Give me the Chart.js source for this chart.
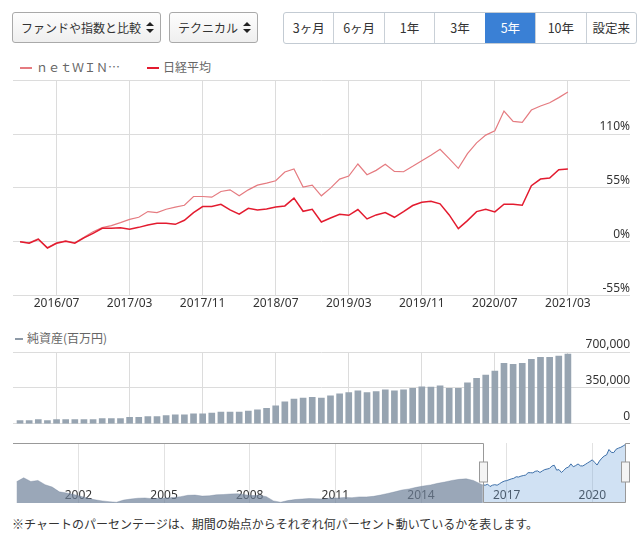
<!DOCTYPE html>
<html lang="ja">
<head>
<meta charset="utf-8">
<script src="https://cdn.jsdelivr.net/npm/chart.js@4.4.1/dist/chart.umd.min.js"></script>
<style>
  body { margin: 0; background: #fff; font-family: "Noto Sans CJK JP", "Noto Sans", sans-serif; color: #333; }
  #wrap { position: relative; width: 643px; height: 534px; overflow: hidden; }
  .sel { position: absolute; top: 12px; height: 31px; box-sizing: border-box; border: 1px solid #a9a9a9; border-radius: 3px;
         background: linear-gradient(#fdfdfd, #efefef); font-size: 12px; line-height: 29px; padding-left: 8px; }
  .arr { position: absolute; right: 6px; top: 9px; width: 8px; height: 11px; }
  .arr:before, .arr:after { content: ''; position: absolute; left: 0; border-left: 4px solid transparent; border-right: 4px solid transparent; }
  .arr:before { top: 0; border-bottom: 4.5px solid #222; }
  .arr:after { bottom: 0; border-top: 4.5px solid #222; }
  #btns { position: absolute; left: 283px; top: 12px; width: 354px; height: 32px; display: flex; box-sizing: border-box;
          border: 1px solid #c3cbd3; border-radius: 3px; overflow: hidden; }
  #btns div { flex: 1; text-align: center; line-height: 30px; font-size: 12.5px; border-left: 1px solid #c9d0d7; }
  #btns div:first-child { border-left: none; }
  #btns div.on { background: #3a80d5; color: #fff; border-left-color: #3a80d5; }
  .lg { position: absolute; font-size: 12px; color: #666; line-height: 14px; white-space: nowrap; }
  .lg i { display: inline-block; height: 2px; vertical-align: middle; margin-right: 4px; position: relative; top: -1px; }
  canvas { position: absolute; }
  #note { position: absolute; left: 12px; top: 515px; font-size: 12px; line-height: 18px; }
</style>
</head>
<body>
<div id="wrap">
  <div class="sel" style="left:12px;width:149px">ファンドや指数と比較<span class="arr"></span></div>
  <div class="sel" style="left:169px;width:89px">テクニカル<span class="arr"></span></div>
  <div id="btns">
    <div>3ヶ月</div><div>6ヶ月</div><div>1年</div><div>3年</div><div class="on">5年</div><div>10年</div><div>設定来</div>
  </div>

  <div class="lg" style="left:20px;top:60px"><i style="width:12px;background:#e57b80"></i>ｎｅｔＷＩＮ…</div>
  <div class="lg" style="left:147px;top:60px"><i style="width:12px;background:#e31b2f"></i>日経平均</div>
  <canvas id="perf" width="617" height="239" style="left:13px;top:73px"></canvas>

  <div class="lg" style="left:15px;top:331px"><i style="width:8px;background:#8e9aa7"></i>純資産(百万円)</div>
  <canvas id="assets" width="617" height="97" style="left:13px;top:334px"></canvas>

  <canvas id="nav" width="617" height="60" style="left:13px;top:443px"></canvas>

  <div id="note">※チャートのパーセンテージは、期間の始点からそれぞれ何パーセント動いているかを表します。</div>
</div>

<script>
// monthly points 2016/03 .. 2021/03
const months = [];
for (let k = 0; k < 61; k++) {
  const m = 2 + k;
  months.push(`${2016 + Math.floor(m / 12)}/${String(m % 12 + 1).padStart(2, '0')}`);
}
const tickLabels = ['2016/07', '2017/03', '2017/11', '2018/07', '2019/03', '2019/11', '2020/07', '2021/03'];
const pctTicks = [-55, 0, 55, 110, 165];
const assetTicks = [0, 350000, 700000];

// % change from start of period
const netWin = [0, -1, 3, -6, -1, 1, -1, 4.5, 10.3, 14.4, 16.4, 19.5, 22.9, 25, 30.8, 29.8, 33.2, 35.3, 37.3, 46.2,
  46.2, 45.5, 51.3, 53, 46.9, 53, 57.8, 59.9, 62.3, 71.2, 74.3, 55.8, 57.8, 46.9, 54.8, 64, 67.1, 79.4, 68.5, 72.9,
  79.1, 71.9, 71.5, 77, 82.8, 88.3, 94.5, 84.9, 75, 90, 101, 108.9, 113.3, 133.5, 122.9, 121.9, 134.5, 138.6, 142, 147.2, 153];
const nikkei = [0, -1.5, 2.5, -6.5, -1.5, 0.5, -1.5, 4, 8.6, 13.7, 13.7, 14.4, 12.7, 14.7, 17.1, 18.8, 18.8, 17.8, 21.9, 29.8,
  35.9, 35.9, 38.3, 32.5, 28.1, 34.2, 32.5, 33.5, 35.6, 36.6, 44.5, 31.1, 33.2, 20.2, 24.3, 28.1, 27, 32.9, 23.3, 27.4,
  29.8, 25, 30.8, 37, 40.4, 41.4, 38.7, 27.4, 13.4, 21.6, 30.8, 33.2, 30.5, 38.3, 38.3, 37.3, 57.2, 64, 65, 73.6, 74.3];

// net assets, million yen
const assets = [32000, 32000, 42000, 32000, 42000, 42000, 42000, 42000, 42000, 52000, 52000, 52000, 62000, 62000, 71000,
  71000, 81000, 88000, 88000, 97000, 97000, 104000, 114000, 114000, 114000, 123000, 136000, 152000, 175000, 214000,
  240000, 250000, 259000, 250000, 272000, 291000, 305000, 321000, 305000, 314000, 330000, 321000, 330000, 347000,
  360000, 357000, 370000, 347000, 347000, 399000, 444000, 476000, 515000, 590000, 580000, 590000, 628000, 648000,
  648000, 661000, 680000];

// navigator: quarterly index since 1999/11 (2016/03 = 100)
const navHistory = [112, 127, 113, 117, 101, 92, 74, 70, 64, 57, 50, 44, 40, 37, 35, 43, 47, 50, 51, 48, 50, 51, 53, 56,
  61, 62, 58, 59, 63, 64, 66, 67, 63, 60, 61, 56, 40, 35, 41, 45, 47, 49, 48, 47, 51, 51, 53, 52, 55, 55, 57, 62, 68,
  74, 81, 85, 91, 96, 100, 106, 111, 117, 121, 123, 117, 104];
const navStart = 1999 + 10 / 12;
const navTickYears = [2002, 2005, 2008, 2011, 2014, 2017, 2020];

const FONT = "'Noto Sans', 'Noto Sans CJK JP', sans-serif";
Chart.defaults.font.family = FONT;
Chart.defaults.font.size = 12;
Chart.defaults.color = '#333';

const tickIdx = tickLabels.map(l => months.indexOf(l));
const xMin = -0.77, xMax = 66.8;
const gridColor = '#dcdcdc';
const baseOpts = {
  responsive: false,
  animation: false,
  devicePixelRatio: 1,
  plugins: { legend: { display: false }, tooltip: { enabled: false } }
};

// performance lines
new Chart(document.getElementById('perf'), {
  type: 'line',
  data: {
    datasets: [
      { label: '日経平均', data: nikkei.map((v, i) => ({ x: i, y: v })), borderColor: '#e31b2f', borderWidth: 1.5, pointRadius: 0 },
      { label: 'ｎｅｔＷＩＮ…', data: netWin.map((v, i) => ({ x: i, y: v })), borderColor: '#e57b80', borderWidth: 1.2, pointRadius: 0 }
    ]
  },
  options: {
    ...baseOpts,
    scales: {
      x: {
        type: 'linear', min: xMin, max: xMax,
        afterBuildTicks: s => { s.ticks = tickIdx.map(v => ({ value: v })); },
        ticks: { callback: v => months[v], padding: 1, maxRotation: 0, autoSkip: false },
        grid: { color: gridColor, drawTicks: false },
        border: { display: false }
      },
      y: {
        position: 'right', min: -55, max: 165,
        afterBuildTicks: s => { s.ticks = pctTicks.map(v => ({ value: v })); },
        ticks: { mirror: true, padding: 0, labelOffset: -7, callback: v => v === 165 ? '' : v + '%' },
        grid: { color: gridColor, drawTicks: false },
        border: { display: false }
      }
    }
  }
});

// net assets bars
new Chart(document.getElementById('assets'), {
  type: 'bar',
  data: {
    datasets: [{ label: '純資産(百万円)', data: assets.map((v, i) => ({ x: i, y: v })), backgroundColor: '#97a4b1', barThickness: 6 }]
  },
  options: {
    ...baseOpts,
    layout: { padding: { top: 18 } },
    scales: {
      x: {
        type: 'linear', min: xMin, max: xMax, offset: false,
        afterBuildTicks: s => { s.ticks = tickIdx.map(v => ({ value: v })); },
        ticks: { display: false },
        grid: { color: gridColor, drawTicks: false, offset: false },
        border: { display: false }
      },
      y: {
        position: 'right', min: 0, max: 700000,
        afterBuildTicks: s => { s.ticks = assetTicks.map(v => ({ value: v })); },
        ticks: { mirror: true, padding: 0, labelOffset: -7, callback: v => v.toLocaleString('en-US') },
        grid: { color: gridColor, drawTicks: false },
        border: { display: false }
      }
    }
  }
});

// navigator
const selFrom = 2016 + 2 / 12;
const selTo = selFrom + (netWin.length - 1) / 12;
const recentPts = netWin.map((v, i) => ({ x: selFrom + i / 12, y: 100 + v }));
const histPts = navHistory.map((v, i) => ({ x: navStart + i * 0.25, y: v })).concat([recentPts[0]]);

const navFrame = {
  id: 'navFrame',
  afterDraw(chart) {
    const { ctx, chartArea: a, scales: { x } } = chart;
    const x0 = Math.round(x.getPixelForValue(selFrom)) + 0.5;
    const x1 = Math.round(x.getPixelForValue(selTo)) - 0.5;
    const top = a.top + 0.5, bot = a.bottom - 0.5;
    ctx.save();
    ctx.strokeStyle = '#999';
    ctx.lineWidth = 1;
    ctx.beginPath();
    ctx.moveTo(a.left, top);
    ctx.lineTo(x0, top);
    ctx.lineTo(x0, bot);
    ctx.lineTo(x1, bot);
    ctx.lineTo(x1, top);
    ctx.lineTo(a.right, top);
    ctx.stroke();
    [x0, x1].forEach(px => {
      ctx.fillStyle = '#f4f4f4';
      ctx.fillRect(px - 4, a.top + 19, 8, 20);
      ctx.strokeRect(px - 4, a.top + 19, 8, 20);
    });
    ctx.restore();
  }
};

new Chart(document.getElementById('nav'), {
  type: 'line',
  data: {
    datasets: [
      { data: recentPts, borderColor: '#3d6fa8', borderWidth: 1, backgroundColor: 'rgba(120,170,222,0.35)', fill: 'start', pointRadius: 0 },
      { data: histPts, borderColor: 'rgba(111,129,154,0.7)', borderWidth: 0.5, backgroundColor: 'rgba(111,129,154,0.7)', fill: 'start', pointRadius: 0 }
    ]
  },
  options: {
    ...baseOpts,
    scales: {
      x: {
        type: 'linear', min: 1999.71, max: 2021.32,
        afterBuildTicks: s => { s.ticks = navTickYears.map(v => ({ value: v })); },
        ticks: { mirror: true, padding: 0, maxRotation: 0, callback: v => String(v) },
        grid: { color: '#e2e2e2', drawTicks: false },
        border: { display: false }
      },
      y: { display: false, min: 32, max: 258 }
    }
  },
  plugins: [navFrame]
});
</script>
</body>
</html>
